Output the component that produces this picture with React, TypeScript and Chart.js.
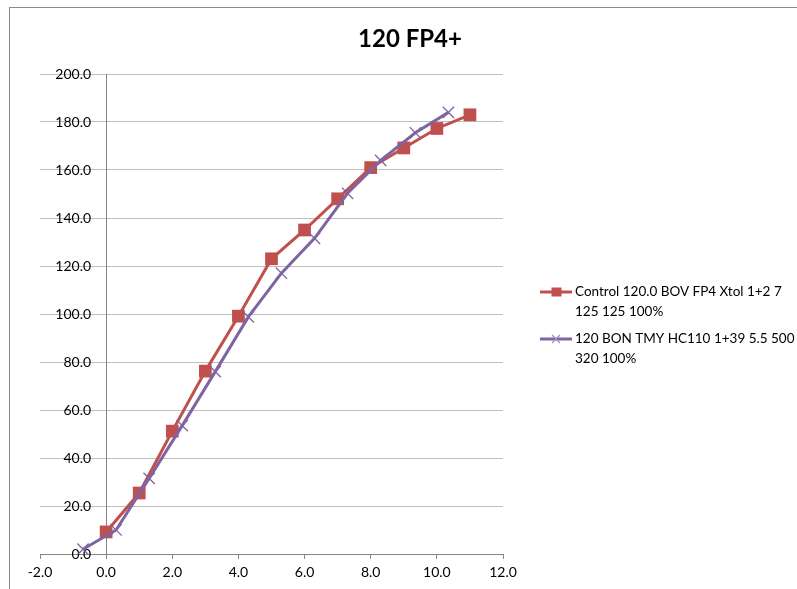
import React, { useEffect, useRef } from "react";
import { Chart, registerables } from "chart.js";

Chart.register(...registerables);

const titleText = "120 FP4+";
const controlLabel = ["Control 120.0 BOV FP4 Xtol 1+2 7", "125 125 100%"];
const tmyLabel = ["120 BON TMY HC110 1+39 5.5 500", "320 100%"];

const controlX = [0, 1, 2, 3, 4, 5, 6, 7, 8, 9, 10, 11];
const controlY = [9.2, 25.4, 51.2, 76.2, 99.1, 123, 135, 148, 161, 169.2, 177.3, 183];

const tmyX = [-0.7, 0.3, 1.3, 2.3, 3.3, 4.3, 5.3, 6.3, 7.3, 8.3, 9.35, 10.35];
const tmyY = [2, 10, 31.5, 53.5, 76, 98.8, 117, 131.5, 150.3, 164, 175.5, 184];

const xMin = -2, xMax = 12, xStep = 2;
const yMin = 0, yMax = 200, yStep = 20;

const RED = "#C0504D";
const PURPLE = "#8064A2";
const FONT = "Lato";
const Y_LABEL_GAP = 15;

const decorPlugin = {
  id: "decor",
  afterDraw(chart: any) {
    const ctx = chart.ctx;
    ctx.save();
    ctx.strokeStyle = "#8c8c8c";
    ctx.lineWidth = 1;
    ctx.strokeRect(9.5, 7.5, 1000, 1000);
    ctx.fillStyle = "#000";
    ctx.font = `bold 24px ${FONT}`;
    ctx.textAlign = "center";
    ctx.textBaseline = "alphabetic";
    ctx.fillText(titleText, 410, 47);
    ctx.font = `13.5px ${FONT}`;
    ctx.textAlign = "left";
    ctx.textBaseline = "middle";
    const entries = [
      { label: controlLabel, color: RED, y: 292, kind: "rect" },
      { label: tmyLabel, color: PURPLE, y: 339, kind: "x" },
    ];
    for (const e of entries) {
      ctx.strokeStyle = e.color;
      ctx.lineWidth = 3;
      ctx.beginPath();
      ctx.moveTo(540, e.y);
      ctx.lineTo(572, e.y);
      ctx.stroke();
      if (e.kind === "rect") {
        ctx.fillStyle = e.color;
        ctx.fillRect(551.5, e.y - 4.5, 10, 9);
      } else {
        ctx.lineWidth = 1.2;
        ctx.strokeStyle = "#a08cc0";
        ctx.beginPath();
        ctx.moveTo(552, e.y - 4);
        ctx.lineTo(560, e.y + 4);
        ctx.moveTo(560, e.y - 4);
        ctx.lineTo(552, e.y + 4);
        ctx.stroke();
      }
      ctx.fillStyle = "#000";
      e.label.forEach((t, i) => ctx.fillText(t, 575, e.y + i * 20));
    }
    ctx.restore();
  },
};

export default function App() {
  const ref = useRef<HTMLCanvasElement>(null);
  useEffect(() => {
    const chart = new Chart(ref.current!, {
      type: "scatter",
      data: {
        datasets: [
          {
            label: controlLabel.join(" "),
            data: controlX.map((x, i) => ({ x, y: controlY[i] })),
            showLine: true,
            borderColor: RED,
            backgroundColor: RED,
            borderWidth: 3,
            pointStyle: "rect",
            pointRadius: 9,
            pointBorderWidth: 0,
            pointBackgroundColor: RED,
            tension: 0,
            order: 1,
          },
          {
            label: tmyLabel.join(" "),
            data: tmyX.map((x, i) => ({ x, y: tmyY[i] })),
            showLine: true,
            borderColor: PURPLE,
            backgroundColor: PURPLE,
            borderWidth: 3,
            pointStyle: "crossRot",
            pointRadius: 8,
            pointBorderWidth: 1.3,
            pointBorderColor: PURPLE,
            tension: 0,
            order: 0,
          },
        ],
      },
      options: {
        animation: false,
        responsive: false,
        maintainAspectRatio: false,
        layout: { padding: { left: 40, top: 74, right: 294, bottom: 0 } },
        plugins: {
          legend: { display: false },
          title: { display: false },
          tooltip: { enabled: false },
        },
        scales: {
          x: {
            type: "linear",
            position: "bottom",
            min: xMin,
            max: xMax,
            afterFit: (s: any) => { s.height = 35; },
            afterBuildTicks: (s: any) => {
              const t = [];
              for (let v = xMin; v <= xMax + 1e-9; v += xStep) t.push({ value: v });
              s.ticks = t;
            },
            grid: { drawOnChartArea: false, drawTicks: true, tickLength: 5, color: "#868686" },
            border: { color: "#868686", width: 1 },
            ticks: {
              padding: 5,
              color: "#000",
              font: { family: FONT, size: 14 },
              callback: (v: any) => Number(v).toFixed(1),
            },
          },
          y: {
            type: "linear",
            position: { x: 0 } as any,
            min: yMin,
            max: yMax,
            afterBuildTicks: (s: any) => {
              const t = [];
              for (let v = yMin; v <= yMax + 1e-9; v += yStep) t.push({ value: v });
              s.ticks = t;
            },
            afterUpdate: (s: any) => {
              if (!s.__patched) {
                const orig = s._computeLabelItems;
                s._computeLabelItems = function (ca: any) {
                  const items = orig.call(this, ca);
                  items.forEach((it: any) => {
                    const tr = it.options && it.options.translation;
                    if (tr) tr[0] -= Y_LABEL_GAP;
                  });
                  return items;
                };
                s.__patched = true;
                s._labelItems = null;
              }
            },
            grid: { color: "#BFBFBF", drawTicks: false, lineWidth: 1 },
            border: { color: "#868686", width: 1 },
            ticks: {
              padding: 0,
              color: "#000",
              font: { family: FONT, size: 14 },
              callback: (v: any) => Number(v).toFixed(1),
            },
          },
        },
      },
      plugins: [decorPlugin],
    });
    return () => chart.destroy();
  }, []);
  return (
    <div style={{ position: "absolute", left: 0, top: 0, width: 797, height: 589, background: "#fff" }}>
      <canvas ref={ref} width={797} height={589} style={{ width: 797, height: 589, display: "block" }} />
    </div>
  );
}
